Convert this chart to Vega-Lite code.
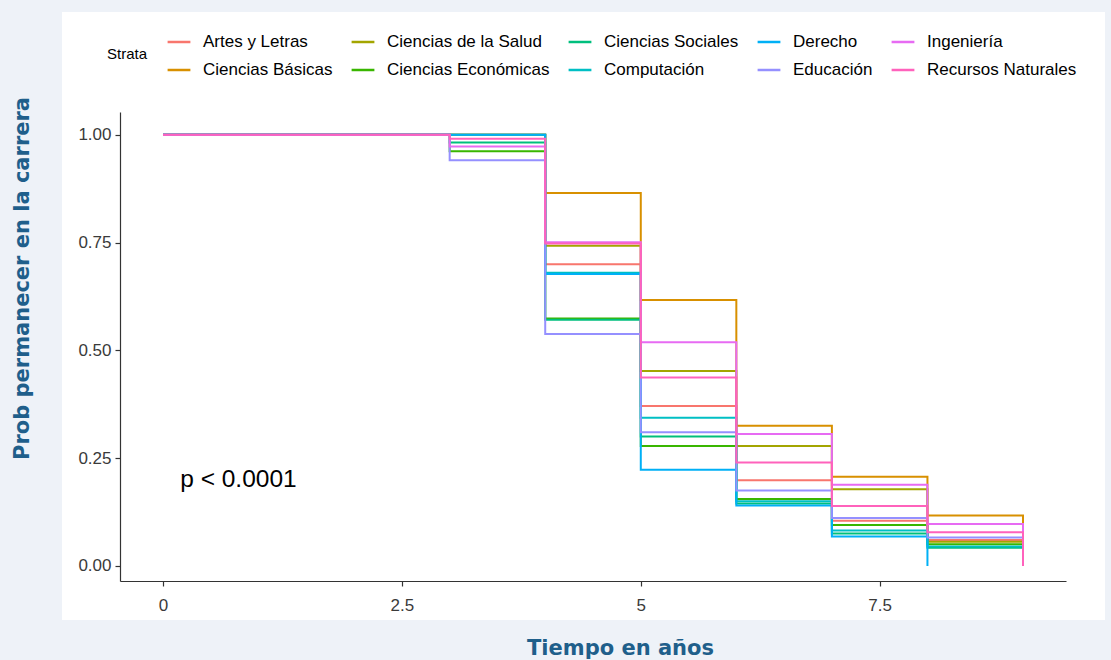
{
  "$schema": "https://vega.github.io/schema/vega-lite/v6.json",
  "width": 946,
  "height": 469,
  "autosize": {"type": "none"},
  "padding": {"left": 120, "top": 112, "right": 45, "bottom": 79},
  "background": "#EEF2F8",
  "config": {
    "view": {"stroke": null},
    "font": "Liberation Sans",
    "axis": {
      "grid": false,
      "domainColor": "#333333",
      "domainWidth": 1.2,
      "tickColor": "#333333",
      "tickSize": 5,
      "tickWidth": 1.2,
      "labelFontSize": 17,
      "labelColor": "#3a3a3a",
      "labelFont": "Liberation Sans",
      "titleFont": "DejaVu Sans",
      "titleFontWeight": "bold",
      "titleFontSize": 21,
      "titleColor": "#1F5F8B"
    }
  },
  "datasets": {
    "km": [
      {"estrato": "Artes y Letras", "t": 0, "surv": 1},
      {"estrato": "Artes y Letras", "t": 3, "surv": 1},
      {"estrato": "Artes y Letras", "t": 4, "surv": 0.700},
      {"estrato": "Artes y Letras", "t": 5, "surv": 0.371},
      {"estrato": "Artes y Letras", "t": 6, "surv": 0.199},
      {"estrato": "Artes y Letras", "t": 7, "surv": 0.105},
      {"estrato": "Artes y Letras", "t": 8, "surv": 0.060},
      {"estrato": "Artes y Letras", "t": 9, "surv": 0},
      {"estrato": "Ciencias Básicas", "t": 0, "surv": 1},
      {"estrato": "Ciencias Básicas", "t": 3, "surv": 1},
      {"estrato": "Ciencias Básicas", "t": 4, "surv": 0.865},
      {"estrato": "Ciencias Básicas", "t": 5, "surv": 0.617},
      {"estrato": "Ciencias Básicas", "t": 6, "surv": 0.325},
      {"estrato": "Ciencias Básicas", "t": 7, "surv": 0.207},
      {"estrato": "Ciencias Básicas", "t": 8, "surv": 0.117},
      {"estrato": "Ciencias Básicas", "t": 9, "surv": 0},
      {"estrato": "Ciencias de la Salud", "t": 0, "surv": 1},
      {"estrato": "Ciencias de la Salud", "t": 3, "surv": 1},
      {"estrato": "Ciencias de la Salud", "t": 4, "surv": 0.743},
      {"estrato": "Ciencias de la Salud", "t": 5, "surv": 0.452},
      {"estrato": "Ciencias de la Salud", "t": 6, "surv": 0.278},
      {"estrato": "Ciencias de la Salud", "t": 7, "surv": 0.178},
      {"estrato": "Ciencias de la Salud", "t": 8, "surv": 0.056},
      {"estrato": "Ciencias de la Salud", "t": 9, "surv": 0},
      {"estrato": "Ciencias Económicas", "t": 0, "surv": 1},
      {"estrato": "Ciencias Económicas", "t": 3, "surv": 0.962},
      {"estrato": "Ciencias Económicas", "t": 4, "surv": 0.574},
      {"estrato": "Ciencias Económicas", "t": 5, "surv": 0.278},
      {"estrato": "Ciencias Económicas", "t": 6, "surv": 0.155},
      {"estrato": "Ciencias Económicas", "t": 7, "surv": 0.095},
      {"estrato": "Ciencias Económicas", "t": 8, "surv": 0.050},
      {"estrato": "Ciencias Económicas", "t": 9, "surv": 0},
      {"estrato": "Ciencias Sociales", "t": 0, "surv": 1},
      {"estrato": "Ciencias Sociales", "t": 3, "surv": 0.982},
      {"estrato": "Ciencias Sociales", "t": 4, "surv": 0.571},
      {"estrato": "Ciencias Sociales", "t": 5, "surv": 0.300},
      {"estrato": "Ciencias Sociales", "t": 6, "surv": 0.145},
      {"estrato": "Ciencias Sociales", "t": 7, "surv": 0.075},
      {"estrato": "Ciencias Sociales", "t": 8, "surv": 0.042},
      {"estrato": "Ciencias Sociales", "t": 9, "surv": 0},
      {"estrato": "Computación", "t": 0, "surv": 1},
      {"estrato": "Computación", "t": 3, "surv": 1},
      {"estrato": "Computación", "t": 4, "surv": 0.680},
      {"estrato": "Computación", "t": 5, "surv": 0.344},
      {"estrato": "Computación", "t": 6, "surv": 0.150},
      {"estrato": "Computación", "t": 7, "surv": 0.082},
      {"estrato": "Computación", "t": 8, "surv": 0.045},
      {"estrato": "Computación", "t": 9, "surv": 0},
      {"estrato": "Derecho", "t": 0, "surv": 1},
      {"estrato": "Derecho", "t": 3, "surv": 1},
      {"estrato": "Derecho", "t": 4, "surv": 0.677},
      {"estrato": "Derecho", "t": 5, "surv": 0.223},
      {"estrato": "Derecho", "t": 6, "surv": 0.140},
      {"estrato": "Derecho", "t": 7, "surv": 0.068},
      {"estrato": "Derecho", "t": 8, "surv": 0},
      {"estrato": "Educación", "t": 0, "surv": 1},
      {"estrato": "Educación", "t": 3, "surv": 0.941},
      {"estrato": "Educación", "t": 4, "surv": 0.538},
      {"estrato": "Educación", "t": 5, "surv": 0.310},
      {"estrato": "Educación", "t": 6, "surv": 0.175},
      {"estrato": "Educación", "t": 7, "surv": 0.111},
      {"estrato": "Educación", "t": 8, "surv": 0.066},
      {"estrato": "Educación", "t": 9, "surv": 0},
      {"estrato": "Ingeniería", "t": 0, "surv": 1},
      {"estrato": "Ingeniería", "t": 3, "surv": 0.973},
      {"estrato": "Ingeniería", "t": 4, "surv": 0.751},
      {"estrato": "Ingeniería", "t": 5, "surv": 0.519},
      {"estrato": "Ingeniería", "t": 6, "surv": 0.306},
      {"estrato": "Ingeniería", "t": 7, "surv": 0.188},
      {"estrato": "Ingeniería", "t": 8, "surv": 0.097},
      {"estrato": "Ingeniería", "t": 9, "surv": 0},
      {"estrato": "Recursos Naturales", "t": 0, "surv": 1},
      {"estrato": "Recursos Naturales", "t": 3, "surv": 0.991},
      {"estrato": "Recursos Naturales", "t": 4, "surv": 0.748},
      {"estrato": "Recursos Naturales", "t": 5, "surv": 0.437},
      {"estrato": "Recursos Naturales", "t": 6, "surv": 0.240},
      {"estrato": "Recursos Naturales", "t": 7, "surv": 0.139},
      {"estrato": "Recursos Naturales", "t": 8, "surv": 0.078},
      {"estrato": "Recursos Naturales", "t": 9, "surv": 0}
    ],
    "panel": [{"nombre": "panel"}],
    "nota": [{"texto": "p < 0.0001", "t": 0.18, "surv": 0.2}]
  },
  "layer": [
    {
      "data": {"name": "panel"},
      "mark": {"type": "rect", "fill": "#FFFFFF"},
      "encoding": {
        "x": {"datum": -1.057, "type": "quantitative", "scale": {"domain": [-0.45, 9.45], "nice": false, "zero": false}},
        "x2": {"datum": 9.858},
        "y": {"datum": 1.285, "type": "quantitative", "scale": {"domain": [-0.035, 1.053], "nice": false, "zero": false}},
        "y2": {"datum": -0.1255}
      }
    },
    {
      "data": {"name": "km"},
      "mark": {"type": "line", "interpolate": "step-after", "strokeWidth": 2},
      "encoding": {
        "x": {
          "field": "t", "type": "quantitative",
          "axis": {"zindex": 1, "values": [0, 2.5, 5, 7.5], "format": "~g", "title": "Tiempo en años", "titleX": 500, "titleY": 67, "titleBaseline": "middle", "labelPadding": 11}
        },
        "y": {
          "field": "surv", "type": "quantitative",
          "axis": {"zindex": 1, "values": [0, 0.25, 0.5, 0.75, 1], "format": ".2f", "title": "Prob permanecer en  la carrera", "titleX": -98, "titleY": 166, "titleAlign": "center", "titleBaseline": "middle", "titleAngle": -90, "labelPadding": 4}
        },
        "color": {
          "field": "estrato", "type": "nominal",
          "scale": {
            "domain": ["Artes y Letras", "Ciencias de la Salud", "Ciencias Sociales", "Derecho", "Ingeniería", "Ciencias Básicas", "Ciencias Económicas", "Computación", "Educación", "Recursos Naturales"],
            "range": ["#F8766D", "#A3A500", "#00BF7D", "#00B0F6", "#E76BF3", "#D89000", "#39B600", "#00BFC4", "#9590FF", "#FF62BC"]
          },
          "legend": {
            "title": "Strata",
            "orient": "none",
            "legendX": -13,
            "legendY": -83,
            "direction": "horizontal",
            "columns": 5,
            "titleOrient": "left",
            "titleAnchor": "middle",
            "titleFontSize": 15,
            "titleFontWeight": "normal",
            "titleColor": "#000000",
            "titlePadding": 18,
            "labelFontSize": 17,
            "labelLimit": 300,
            "labelColor": "#000000",
            "labelOffset": 11,
            "symbolType": "stroke",
            "symbolStrokeWidth": 2.5,
            "symbolSize": 520,
            "rowPadding": 7,
            "columnPadding": 13,
            "zindex": 1
          }
        },
        "order": {"field": "t", "type": "quantitative"}
      }
    },
    {
      "data": {"name": "nota"},
      "mark": {"type": "text", "align": "left", "baseline": "middle", "fontSize": 24.5, "font": "Liberation Sans", "color": "#000000"},
      "encoding": {
        "x": {"field": "t", "type": "quantitative"},
        "y": {"field": "surv", "type": "quantitative"},
        "text": {"field": "texto"}
      }
    }
  ]
}
